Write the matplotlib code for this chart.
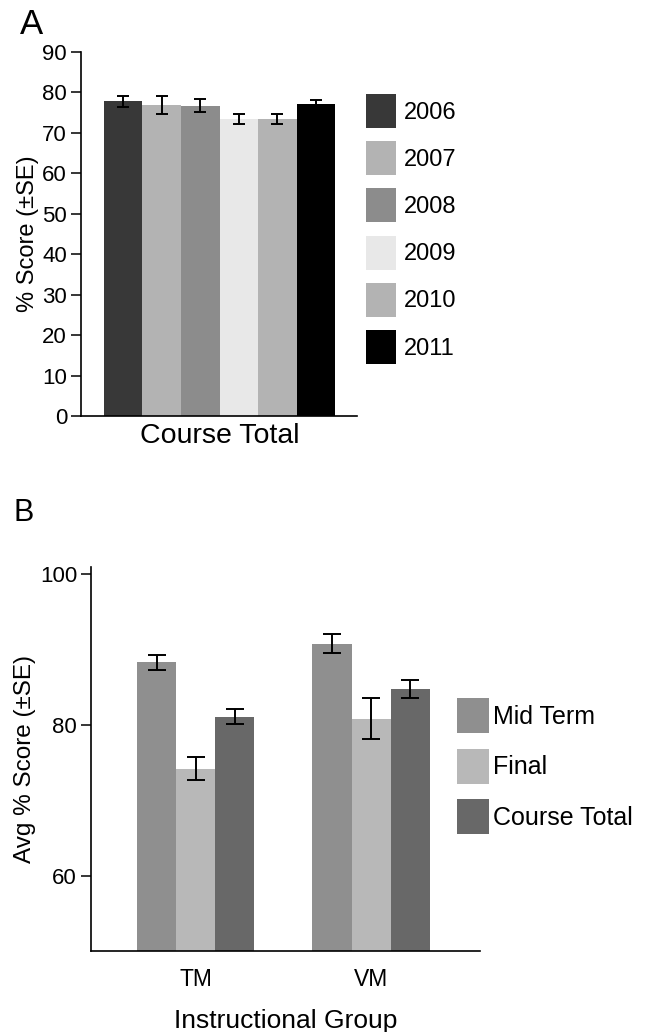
import numpy as np
import matplotlib
matplotlib.use("Agg")
import matplotlib.pyplot as plt

plt.rcParams['font.family'] = ['Liberation Sans', 'DejaVu Sans']

# Panel A: course total by year
years = ['2006', '2007', '2008', '2009', '2010', '2011']
year_means = [77.8, 76.9, 76.7, 73.5, 73.5, 77.2]
year_se = [1.3, 2.2, 1.6, 1.2, 1.2, 1.0]
year_colors = ['#383838', '#b3b3b3', '#8c8c8c', '#e8e8e8', '#b3b3b3', '#000000']

# Panel B: instructional groups
groups = ['TM', 'VM']
measures = ['Mid Term', 'Final', 'Course Total']
group_means = {
    'Mid Term': [88.3, 90.75],
    'Final': [74.2, 80.85],
    'Course Total': [81.1, 84.8],
}
group_se = {
    'Mid Term': [1.0, 1.25],
    'Final': [1.5, 2.75],
    'Course Total': [1.0, 1.2],
}
measure_colors = ['#8f8f8f', '#b8b8b8', '#686868']

fig = plt.figure(figsize=(6.49, 10.32), dpi=100)

# ---- panel A ----
axA = fig.add_axes([0.1248, 0.5969, 0.4253, 0.3527])
xa = np.arange(len(years))
barsA = axA.bar(xa, year_means, width=1.0, color=year_colors, linewidth=0)
axA.errorbar(xa, year_means, yerr=year_se, fmt='none', ecolor='black',
             elinewidth=1.4, capsize=4, capthick=1.4)
axA.set_xlim(-1.097, 6.071)
axA.set_ylim(0, 90)
axA.set_yticks(np.arange(0, 91, 10))
axA.set_xticks([2.5])
axA.set_xticklabels(['Course Total'], fontsize=20.5)
axA.tick_params(axis='x', length=0, pad=5)
axA.tick_params(axis='y', labelsize=16, length=7, width=1.1, pad=3)
axA.set_ylabel('% Score (\u00b1SE)', fontsize=17, labelpad=2)
for s in ['top', 'right']:
    axA.spines[s].set_visible(False)
for s in ['left', 'bottom']:
    axA.spines[s].set_linewidth(1.2)
axA.legend(barsA, years, loc='upper left', bbox_to_anchor=(0.564, 0.9089),
           bbox_transform=fig.transFigure, frameon=False, fontsize=17,
           handlelength=1.27, handleheight=1.838, labelspacing=0.56,
           handletextpad=0.34, borderpad=0, borderaxespad=0)

fig.text(20 / 649, 1 - 8 / 1032, 'A', fontsize=25, va='top', ha='left')

# ---- panel B ----
axB = fig.add_axes([0.1402, 0.0785, 0.5994, 0.3724])
xb = np.arange(len(groups))
w = 0.2226
handlesB = []
for i, m in enumerate(measures):
    pos = xb + (i - 1) * w
    b = axB.bar(pos, group_means[m], width=w, color=measure_colors[i], linewidth=0)
    axB.errorbar(pos, group_means[m], yerr=group_se[m], fmt='none', ecolor='black',
                 elinewidth=1.4, capsize=6.5, capthick=1.4)
    handlesB.append(b)
axB.set_xlim(-0.598, 1.622)
axB.set_ylim(50, 101)
axB.set_yticks([60, 80, 100])
axB.set_xticks(xb)
axB.set_xticklabels(groups, fontsize=16.5)
axB.tick_params(axis='x', length=0, pad=12)
axB.tick_params(axis='y', labelsize=16, length=7, width=1.1, pad=3)
axB.set_ylabel('Avg % Score (\u00b1SE)', fontsize=17.5, labelpad=3)
axB.set_xlabel('Instructional Group', fontsize=19, labelpad=13)
for s in ['top', 'right']:
    axB.spines[s].set_visible(False)
for s in ['left', 'bottom']:
    axB.spines[s].set_linewidth(1.2)
axB.legend(handlesB, measures, loc='upper left', bbox_to_anchor=(0.704, 0.3236),
           bbox_transform=fig.transFigure, frameon=False, fontsize=18,
           handlelength=1.28, handleheight=1.777, labelspacing=0.62,
           handletextpad=0.16, borderpad=0, borderaxespad=0)

fig.text(13 / 649, 1 - 498 / 1032, 'B', fontsize=22, va='top', ha='left')

fig.savefig('out.png', dpi=100)
